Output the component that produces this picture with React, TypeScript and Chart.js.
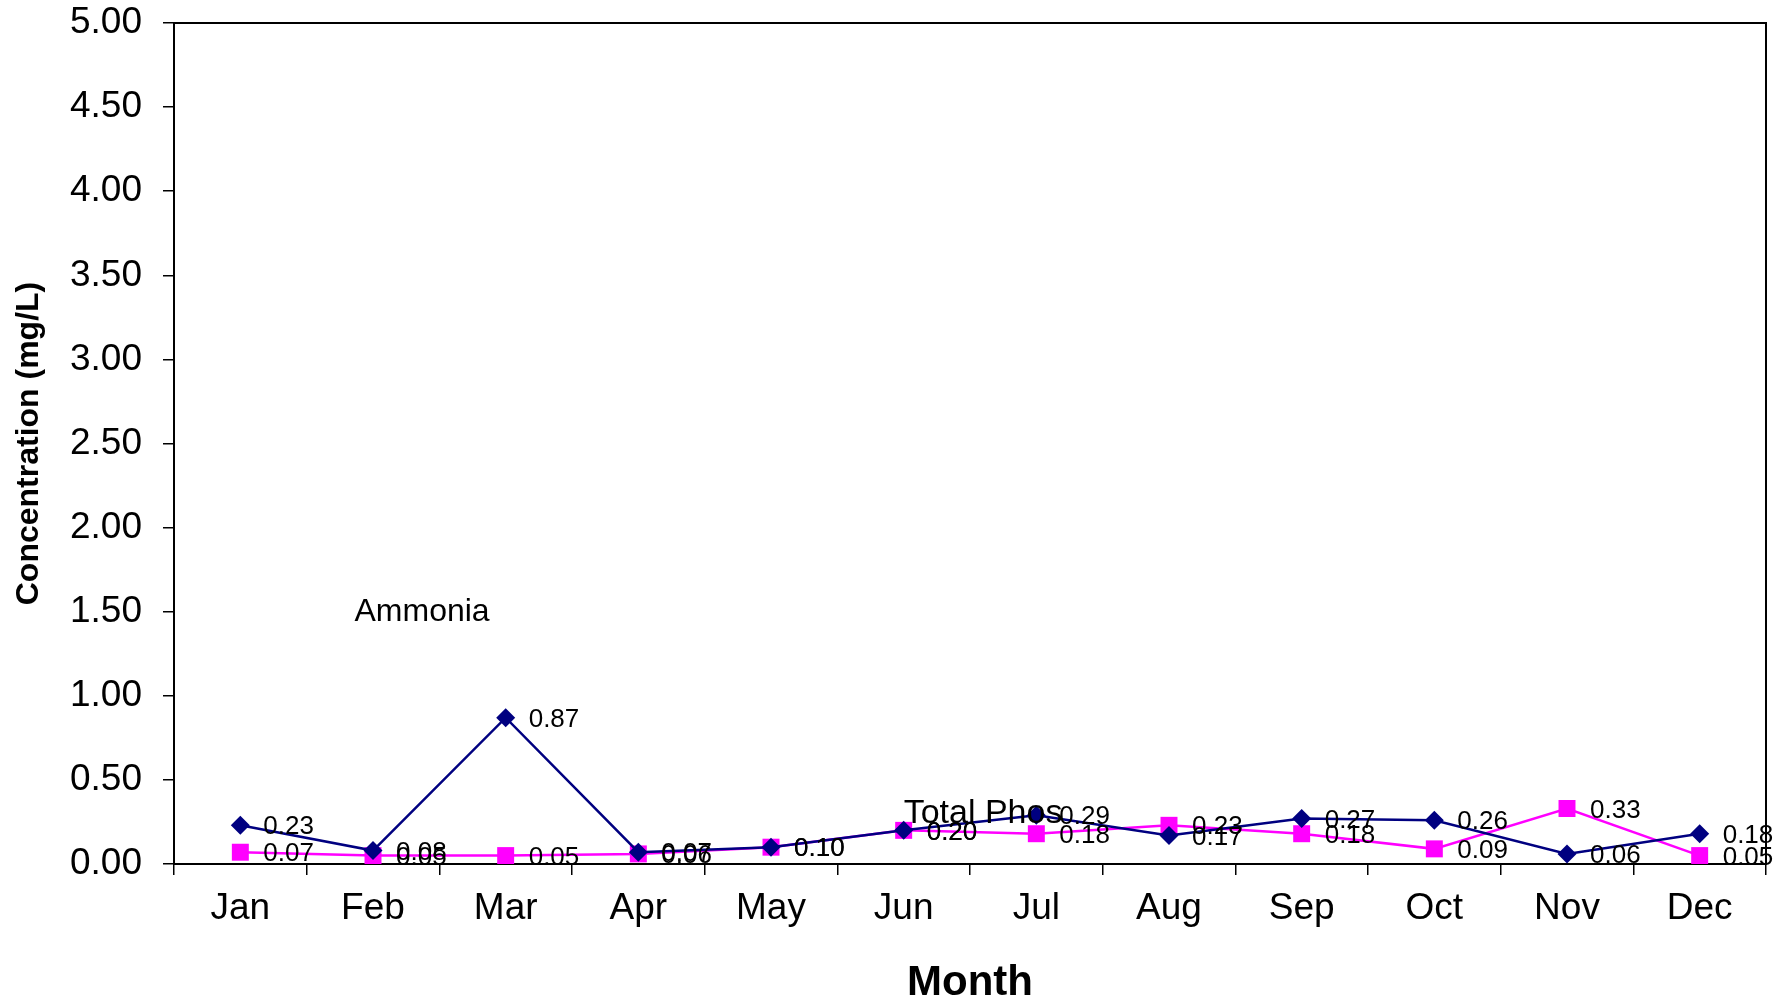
import React, { useEffect, useRef } from 'react';
import { Chart, registerables } from 'chart.js';

Chart.register(...registerables);

const FONT = "'Liberation Sans', Arial, Helvetica, sans-serif";

const months = ['Jan', 'Feb', 'Mar', 'Apr', 'May', 'Jun', 'Jul', 'Aug', 'Sep', 'Oct', 'Nov', 'Dec'];
const ammonia = [0.23, 0.08, 0.87, 0.07, 0.10, 0.20, 0.29, 0.17, 0.27, 0.26, 0.06, 0.18];
const totalPhos = [0.07, 0.05, 0.05, 0.06, 0.10, 0.20, 0.18, 0.23, 0.18, 0.09, 0.33, 0.05];
const seriesNames = ['Ammonia', 'Total Phos'];
const yMin = 0;
const yMax = 5;
const yStep = 0.5;
const xTitle = 'Month';
const yTitle = 'Concentration (mg/L)';

const labelPlugin = {
  id: 'valueLabels',
  beforeDatasetsDraw(chart: any) {
    const { ctx, chartArea } = chart;
    ctx.save();
    ctx.strokeStyle = '#000';
    ctx.lineWidth = 2;
    ctx.strokeRect(chartArea.left, chartArea.top, chartArea.right - chartArea.left, chartArea.bottom - chartArea.top);
    ctx.restore();
  },
  afterDatasetsDraw(chart: any) {
    const { ctx } = chart;
    const xs = chart.scales.x;
    const ys = chart.scales.y;
    ctx.save();
    ctx.fillStyle = '#000';
    ctx.textBaseline = 'middle';
    ctx.textAlign = 'left';
    ctx.font = `26px ${FONT}`;
    chart.data.datasets.forEach((ds: any, i: number) => {
      const meta = chart.getDatasetMeta(i);
      meta.data.forEach((pt: any, j: number) => {
        ctx.fillText(Number(ds.data[j]).toFixed(2), pt.x + 23, pt.y + 2);
      });
    });
    // series name labels
    ctx.font = `32px ${FONT}`;
    ctx.textAlign = 'center';
    ctx.fillText(seriesNames[0], xs.getPixelForValue(1.37), ys.getPixelForValue(1.5));
    ctx.font = `34px ${FONT}`;
    ctx.textAlign = 'left';
    ctx.fillText(seriesNames[1], xs.getPixelForValue(5), ys.getPixelForValue(0.3));
    ctx.restore();
  },
};

export default function App() {
  const canvasRef = useRef<HTMLCanvasElement | null>(null);

  useEffect(() => {
    const canvas = canvasRef.current;
    if (!canvas) return;
    const chart = new Chart(canvas, {
      type: 'line',
      data: {
        labels: months,
        datasets: [
          {
            label: seriesNames[0],
            data: ammonia,
            borderColor: '#000080',
            backgroundColor: '#000080',
            borderWidth: 2.5,
            pointStyle: 'rectRot',
            pointRadius: 9.5,
            pointBorderWidth: 0,
            tension: 0,
          },
          {
            label: seriesNames[1],
            data: totalPhos,
            borderColor: '#FF00FF',
            backgroundColor: '#FF00FF',
            borderWidth: 2.5,
            pointStyle: 'rect',
            pointRadius: 12,
            pointBorderWidth: 0,
            tension: 0,
          },
        ],
      },
      options: {
        animation: false,
        responsive: false,
        devicePixelRatio: 1,
        layout: { padding: { top: 23, right: 25, left: 0, bottom: 0 } },
        plugins: {
          legend: { display: false },
          tooltip: { enabled: false },
        },
        scales: {
          x: {
            type: 'category',
            offset: true,
            grid: {
              offset: true,
              drawOnChartArea: false,
              drawTicks: true,
              tickLength: 11,
              color: '#000',
              lineWidth: 1.5,
            },
            border: { display: true, color: '#000', width: 2 },
            ticks: {
              color: '#000',
              font: { family: FONT, size: 37 },
              padding: 12,
              maxRotation: 0,
              autoSkip: false,
            },
            title: {
              display: true,
              text: xTitle,
              color: '#000',
              font: { family: FONT, size: 42, weight: 'bold', lineHeight: 1 },
              padding: { top: 0, bottom: 0 },
            },
            afterFit(scale: any) {
              scale.height = 140;
              scale.paddingLeft = 0;
              scale.paddingRight = 0;
            },
          },
          y: {
            min: yMin,
            max: yMax,
            ticks: {
              stepSize: yStep,
              color: '#000',
              font: { family: FONT, size: 37 },
              padding: 21,
              callback: (v: any) => Number(v).toFixed(2),
            },
            grid: {
              drawOnChartArea: false,
              drawTicks: true,
              tickLength: 11,
              color: '#000',
              lineWidth: 1.5,
            },
            border: { display: true, color: '#000', width: 2 },
            title: {
              display: true,
              text: yTitle,
              color: '#000',
              font: { family: FONT, size: 32, weight: 'bold', lineHeight: 1.2 },
              padding: { top: 10, bottom: 0 },
            },
            afterFit(scale: any) {
              scale.width = 174;
              scale.paddingTop = 0;
              scale.paddingBottom = 0;
            },
          },
        },
      },
      plugins: [labelPlugin],
    } as any);
    return () => chart.destroy();
  }, []);

  return (
    <div style={{ position: 'fixed', left: 0, top: 0, width: 1791, height: 1004, background: '#fff' }}>
      <canvas ref={canvasRef} width={1791} height={1004} style={{ width: 1791, height: 1004, display: 'block' }} />
    </div>
  );
}
